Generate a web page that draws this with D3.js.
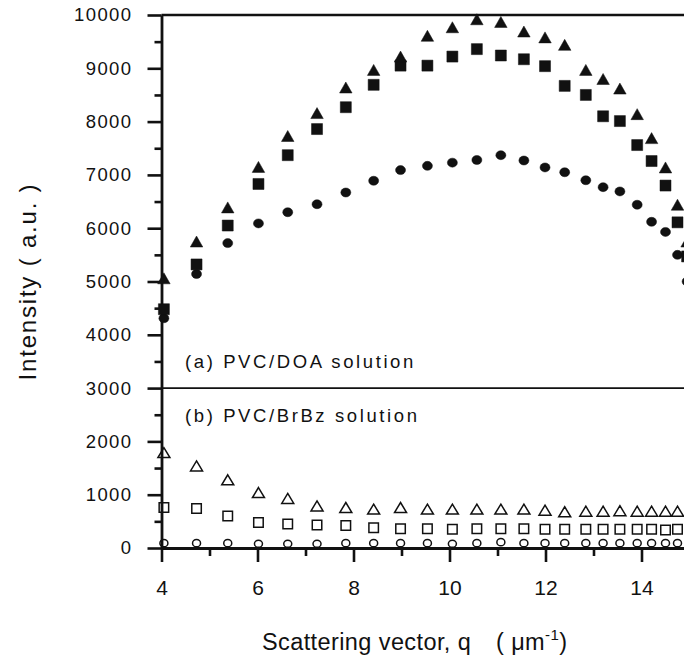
<!DOCTYPE html>
<html>
<head>
<meta charset="utf-8">
<script src="https://cdn.jsdelivr.net/npm/d3@7"></script>
<style>
  body { margin: 0; background: #fff; }
  svg { display: block; }
</style>
</head>
<body>
<div id="chart"></div>
<script>
// DATA
// ****

// scattering vector q (um^-1), one value per measured angle
const q = [4.05, 4.73, 5.38, 6.02, 6.63, 7.24, 7.84, 8.42, 8.98, 9.54, 10.06, 10.57,
           11.07, 11.55, 11.99, 12.40, 12.84, 13.20, 13.55, 13.91, 14.21, 14.50, 14.75, 14.95]

// (a) PVC/DOA solution - filled symbols
const doaTriangle = [5060, 5750, 6390, 7150, 7730, 8160, 8640, 8970, 9220, 9610, 9770, 9920,
                     9870, 9690, 9580, 9440, 8970, 8800, 8620, 8140, 7690, 7140, 6440, 5750]
const doaSquare   = [4480, 5320, 6050, 6830, 7370, 7860, 8270, 8690, 9050, 9050, 9220, 9360,
                     9240, 9170, 9040, 8670, 8500, 8100, 8010, 7560, 7260, 6800, 6110, 5470]
const doaCircle   = [4310, 5140, 5720, 6090, 6300, 6450, 6670, 6890, 7090, 7170, 7230, 7280,
                     7370, 7270, 7140, 7050, 6900, 6770, 6690, 6440, 6120, 5930, 5500, 5000]

// (b) PVC/BrBz solution - open symbols
const brbzTriangle = [1790, 1540, 1280, 1040, 930, 790, 760, 730, 760, 730, 730, 730,
                      730, 730, 710, 680, 690, 690, 700, 690, 690, 690, 690]
const brbzSquare   = [760, 740, 600, 480, 450, 430, 420, 380, 360, 360, 350, 360,
                      360, 360, 350, 350, 350, 350, 350, 350, 350, 340, 350]
const brbzCircle   = [90, 90, 90, 80, 80, 80, 90, 90, 90, 90, 80, 90,
                      110, 90, 90, 90, 90, 90, 90, 90, 90, 90, 90]

const yTicks = [0, 1000, 2000, 3000, 4000, 5000, 6000, 7000, 8000, 9000, 10000]
const xTicks = [4, 6, 8, 10, 12, 14]
const xMinor = [5, 7, 9, 11, 13]
const splitValue = 3000

// CHART
// *****

const W = 684, H = 670
const ink = "#111"

const svg = d3.select("#chart").append("svg").attr("width", W).attr("height", H)

const x = d3.scaleLinear().domain([4, 15]).range([161.5, 689.5])
const y = d3.scaleLinear().domain([0, 10000]).range([548, 15])

const pairs = vals => vals.map((v, i) => ({ q: q[i], v: v }))

// frame lines: top border and the (a)/(b) divider
svg.append("line")
   .attr("x1", x(4)).attr("x2", W).attr("y1", y(10000)).attr("y2", y(10000))
   .attr("stroke", ink).attr("stroke-width", 2.4)
svg.append("line")
   .attr("x1", x(4)).attr("x2", W).attr("y1", y(splitValue)).attr("y2", y(splitValue))
   .attr("stroke", ink).attr("stroke-width", 1.9)

// Y axis, major + minor
const yAxis = svg.append("g").attr("transform", `translate(${x(4)},0)`)
  .call(d3.axisLeft(y).tickValues(yTicks).tickSize(14).tickSizeOuter(0)
          .tickPadding(15).tickFormat(d3.format("d")))
yAxis.select(".domain").attr("stroke", ink).attr("stroke-width", 2.8)
yAxis.selectAll(".tick line").attr("stroke", ink).attr("stroke-width", 2.6)
yAxis.selectAll("text")
     .attr("font-family", "'Liberation Sans', Arial, sans-serif")
     .attr("font-size", 18.5).attr("letter-spacing", 1.4).attr("fill", ink)

const yMinor = svg.append("g").attr("transform", `translate(${x(4)},0)`)
  .call(d3.axisLeft(y).tickValues(d3.range(500, 10000, 1000)).tickSize(7).tickFormat(""))
yMinor.select(".domain").remove()
yMinor.selectAll(".tick line").attr("stroke", ink).attr("stroke-width", 2.6)

// X axis, major + minor
const xAxis = svg.append("g").attr("transform", `translate(0,${y(0)})`)
  .call(d3.axisBottom(x).tickValues(xTicks).tickSize(14).tickSizeOuter(0).tickPadding(18))
xAxis.select(".domain").attr("stroke", ink).attr("stroke-width", 2.8)
xAxis.selectAll(".tick line").attr("stroke", ink).attr("stroke-width", 2.6)
xAxis.selectAll("text")
     .attr("font-family", "'Liberation Sans Narrow', 'Liberation Sans', Arial, sans-serif")
     .attr("font-size", 21).attr("fill", ink)

const xMin = svg.append("g").attr("transform", `translate(0,${y(0)})`)
  .call(d3.axisBottom(x).tickValues(xMinor).tickSize(8).tickFormat(""))
xMin.select(".domain").remove()
xMin.selectAll(".tick line").attr("stroke", ink).attr("stroke-width", 2.6)

// MARKERS
// *******

function triangle(w, h) {
  return d => {
    const cx = x(d.q), cy = y(d.v)
    return `M${cx},${cy - h / 2}L${cx + w / 2},${cy + h / 2}L${cx - w / 2},${cy + h / 2}Z`
  }
}

function square(s) {
  return d => {
    const cx = x(d.q), cy = y(d.v)
    return `M${cx - s / 2},${cy - s / 2}h${s}v${s}h${-s}Z`
  }
}

function drawPaths(vals, shape, filled) {
  svg.append("g").selectAll("path").data(pairs(vals)).enter()
     .append("path")
     .attr("d", shape)
     .attr("fill", filled ? ink : "none")
     .attr("stroke", ink)
     .attr("stroke-width", filled ? 0.5 : 1.5)
}

function drawEllipses(vals, rx, ry, filled) {
  svg.append("g").selectAll("ellipse").data(pairs(vals)).enter()
     .append("ellipse")
     .attr("cx", d => x(d.q)).attr("cy", d => y(d.v))
     .attr("rx", rx).attr("ry", ry)
     .attr("fill", filled ? ink : "none")
     .attr("stroke", ink)
     .attr("stroke-width", filled ? 0.5 : 1.5)
}

// (a) filled
drawEllipses(doaCircle, 5, 4.5, true)
drawPaths(doaSquare, square(11), true)
drawPaths(doaTriangle, triangle(12.5, 11), true)

// (b) open
drawEllipses(brbzCircle, 4, 3.6, false)
drawPaths(brbzSquare, square(9.5), false)
drawPaths(brbzTriangle, triangle(12, 10), false)

// TEXT
// ****

const sans = "'Liberation Sans', Arial, sans-serif"

svg.append("text").attr("x", 185).attr("y", 368)
   .attr("font-family", sans).attr("font-size", 18.5).attr("letter-spacing", 2.6)
   .attr("fill", ink).text("(a) PVC/DOA solution")

svg.append("text").attr("x", 185).attr("y", 422)
   .attr("font-family", sans).attr("font-size", 18.5).attr("letter-spacing", 2.6)
   .attr("fill", ink).text("(b) PVC/BrBz solution")

// y title
svg.append("text")
   .attr("transform", `translate(36,${(y(0) + y(10000)) / 2}) rotate(-90)`)
   .attr("text-anchor", "middle")
   .attr("font-family", sans).attr("font-size", 24).attr("letter-spacing", 1.8)
   .attr("fill", ink).text("Intensity ( a.u. )")

// x title
const xt = svg.append("text").attr("y", 649.5)
   .attr("font-family", sans).attr("font-size", 23.5).attr("letter-spacing", 0.4)
   .attr("fill", ink)
xt.append("tspan").attr("x", 262).text("Scattering vector, q")
xt.append("tspan").attr("x", 496).text("( \u03bcm")
xt.append("tspan").attr("dy", -10).attr("font-size", 15).text("-1")
xt.append("tspan").attr("dy", 10).text(")")
</script>
</body>
</html>
